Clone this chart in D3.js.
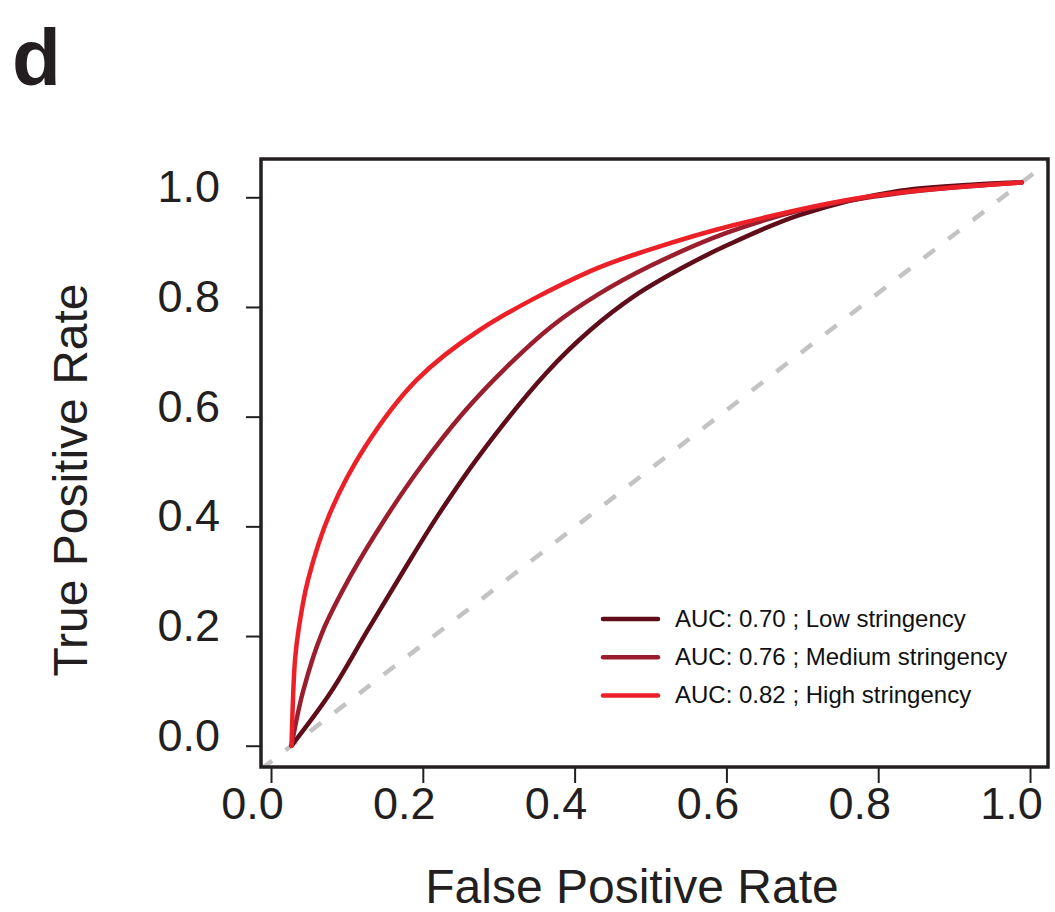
<!DOCTYPE html>
<html>
<head>
<meta charset="utf-8">
<script src="https://cdn.jsdelivr.net/npm/d3@7"></script>
<style>
  body { margin: 0; background: #fff; }
  svg { display: block; font-family: "Liberation Sans", Arial, sans-serif; }
</style>
</head>
<body>
<svg id="chart" width="1055" height="912"></svg>
<script>
// ROC curves
const fprLow  = [0.027, 0.078, 0.128, 0.175, 0.220, 0.275, 0.363, 0.420, 0.480, 0.540, 0.600, 0.697, 0.829, 0.989];
const tprLow  = [0.000, 0.096, 0.212, 0.320, 0.420, 0.530, 0.680, 0.757, 0.821, 0.870, 0.912, 0.968, 1.012, 1.027];
const fprMed  = [0.027, 0.042, 0.067, 0.105, 0.150, 0.198, 0.252, 0.310, 0.370, 0.430, 0.500, 0.600, 0.700, 0.829, 0.989];
const tprMed  = [0.000, 0.098, 0.205, 0.310, 0.413, 0.510, 0.605, 0.690, 0.765, 0.822, 0.875, 0.935, 0.977, 1.008, 1.027];
const fprHigh = [0.027, 0.0316, 0.0369, 0.0487, 0.0777, 0.124, 0.192, 0.275, 0.420, 0.500, 0.609, 0.785, 0.989];
const tprHigh = [0.000, 0.156, 0.217, 0.302, 0.424, 0.545, 0.667, 0.758, 0.865, 0.905, 0.949, 1.001, 1.027];

const seriesNames  = ["Low stringency", "Medium stringency", "High stringency"];
const seriesAUC    = ["0.70", "0.76", "0.82"];
const seriesColors = ["#5f0e19", "#9b1e2e", "#ec2027"];

const xTicks = [0, 0.2, 0.4, 0.6, 0.8, 1.0];
const yTicks = [0, 0.2, 0.4, 0.6, 0.8, 1.0];

// chance line passes through the first and last ROC points
const diagFrom = [0.027, 0.000];
const diagTo   = [0.989, 1.027];

const ink = "#231f20";
const svg = d3.select("#chart");

const box = { left: 261, right: 1048, top: 159, bottom: 767 };

const x = d3.scaleLinear().domain([-0.0132, 1.0237]).range([box.left, box.right]);
const y = d3.scaleLinear().domain([-0.0388, 1.0698]).range([box.bottom, box.top]);

svg.append("defs").append("clipPath").attr("id", "plotclip")
  .append("rect")
  .attr("x", box.left).attr("y", box.top)
  .attr("width", box.right - box.left).attr("height", box.bottom - box.top);

// panel letter
svg.append("text")
  .attr("x", 12).attr("y", 85)
  .attr("font-size", 80).attr("font-weight", "bold").attr("fill", ink)
  .text("d");

// dashed chance line
const slope = (diagTo[1] - diagFrom[1]) / (diagTo[0] - diagFrom[0]);
const dx0 = x.domain()[0], dx1 = x.domain()[1];
svg.append("line")
  .attr("clip-path", "url(#plotclip)")
  .attr("x1", x(dx0)).attr("y1", y(diagFrom[1] + slope * (dx0 - diagFrom[0])))
  .attr("x2", x(dx1)).attr("y2", y(diagFrom[1] + slope * (dx1 - diagFrom[0])))
  .attr("stroke", "#c3c3c3").attr("stroke-width", 4.5)
  .attr("stroke-dasharray", "14,17");

// curves
const curves = [
  d3.zip(fprLow, tprLow),
  d3.zip(fprMed, tprMed),
  d3.zip(fprHigh, tprHigh)
];
const line = d3.line()
  .x(d => x(d[0]))
  .y(d => y(d[1]))
  .curve(d3.curveCatmullRom.alpha(0.5));

svg.append("g")
  .selectAll("path")
  .data(curves)
  .join("path")
  .attr("d", line)
  .attr("fill", "none")
  .attr("stroke", (d, i) => seriesColors[i])
  .attr("stroke-width", 4.5)
  .attr("stroke-linecap", "round")
  .attr("stroke-linejoin", "round");

// frame
svg.append("rect")
  .attr("x", box.left).attr("y", box.top)
  .attr("width", box.right - box.left).attr("height", box.bottom - box.top)
  .attr("fill", "none").attr("stroke", ink).attr("stroke-width", 3.5);

// x axis
const xAxis = svg.append("g")
  .attr("transform", "translate(0," + box.bottom + ")")
  .call(d3.axisBottom(x).tickValues(xTicks).tickFormat(d3.format(".1f")).tickSizeOuter(0).tickSize(16).tickPadding(4));
xAxis.select(".domain").remove();
xAxis.selectAll(".tick line").attr("stroke", ink).attr("stroke-width", 2);
xAxis.selectAll(".tick text")
  .attr("fill", ink).attr("font-size", 45).attr("font-family", null)
  .attr("dy", null).attr("y", 52).attr("dx", -19);

// y axis
const yAxis = svg.append("g")
  .attr("transform", "translate(" + box.left + ",0)")
  .call(d3.axisLeft(y).tickValues(yTicks).tickFormat(d3.format(".1f")).tickSizeOuter(0).tickSize(15));
yAxis.select(".domain").remove();
yAxis.selectAll(".tick line").attr("stroke", ink).attr("stroke-width", 2);
yAxis.selectAll(".tick text")
  .attr("fill", ink).attr("font-size", 45).attr("font-family", null)
  .attr("dy", null).attr("y", 4.5).attr("x", -41);

// axis titles
svg.append("text")
  .attr("x", 632).attr("y", 903)
  .attr("text-anchor", "middle")
  .attr("font-size", 48).attr("fill", ink)
  .text("False Positive Rate");

svg.append("text")
  .attr("transform", "translate(87,480) rotate(-90)")
  .attr("text-anchor", "middle")
  .attr("font-size", 48).attr("fill", ink)
  .text("True Positive Rate");

// legend
const legend = svg.append("g").attr("transform", "translate(603,619)");
const item = legend.selectAll("g")
  .data(seriesNames)
  .join("g")
  .attr("transform", (d, i) => "translate(0," + (i * 38.2) + ")");
item.append("line")
  .attr("x1", 0).attr("x2", 55)
  .attr("stroke", (d, i) => seriesColors[i])
  .attr("stroke-width", 4.5)
  .attr("stroke-linecap", "round");
item.append("text")
  .attr("x", 72).attr("y", 8)
  .attr("font-size", 24).attr("fill", "#111")
  .text((d, i) => "AUC: " + seriesAUC[i] + " ; " + d);
</script>
</body>
</html>
